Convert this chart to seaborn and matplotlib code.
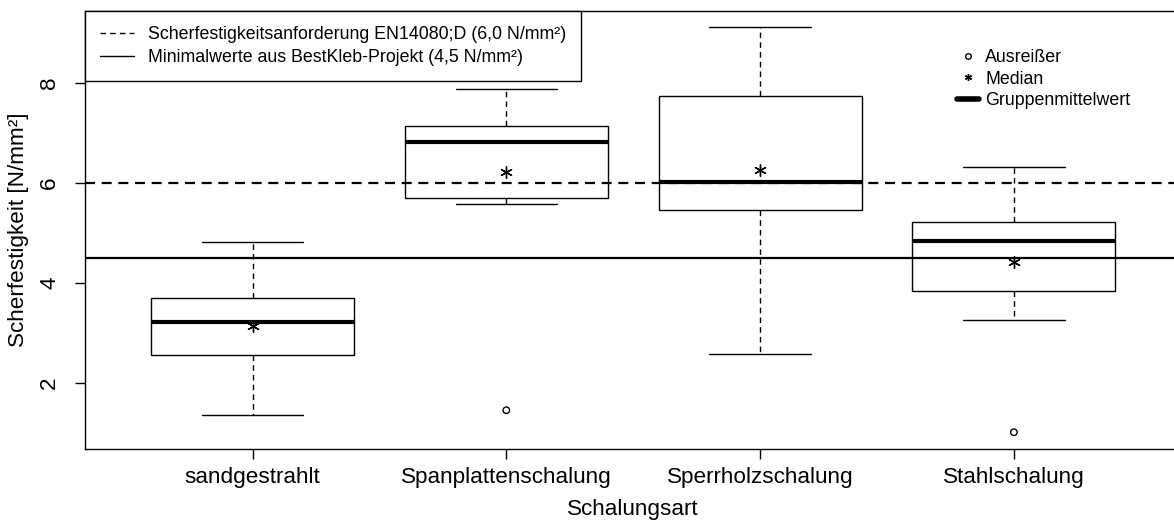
import matplotlib
matplotlib.use("Agg")
import matplotlib.pyplot as plt
import seaborn as sns
from matplotlib.lines import Line2D

# ---- data ----
categories = ["sandgestrahlt", "Spanplattenschalung", "Sperrholzschalung", "Stahlschalung"]
whisker_low = [1.36, 5.59, 2.58, 3.26]
box_q1 = [2.56, 5.70, 5.47, 3.84]
box_median = [3.22, 6.82, 6.03, 4.84]
box_q3 = [3.69, 7.15, 7.75, 5.22]
whisker_high = [4.82, 7.88, 9.12, 6.33]
group_mean = [3.13, 6.23, 6.27, 4.42]
outlier_category = ["Spanplattenschalung", "Stahlschalung"]
outlier_value = [1.45, 1.01]
ref_requirement = 6.0
ref_bestkleb = 4.5
legend1_labels = ["Scherfestigkeitsanforderung EN14080;D (6,0 N/mm²)",
                  "Minimalwerte aus BestKleb-Projekt (4,5 N/mm²)"]
legend2_labels = ["Ausreißer", "Median", "Gruppenmittelwert"]
y_ticks = [2, 4, 6, 8]

sns.set_theme(style="ticks")
plt.rcParams['font.family'] = ['Liberation Sans', 'DejaVu Sans']
plt.rcParams.update({"text.color": "black", "axes.labelcolor": "black",
                     "xtick.color": "black", "ytick.color": "black",
                     "axes.edgecolor": "black"})

fig = plt.figure(figsize=(11.74, 5.22), dpi=100)
ax = fig.add_axes([85/1174, 73.3/522, (1181.4-85)/1174, (448.7-11)/522])

positions = list(range(1, len(categories) + 1))
pos_of = dict(zip(categories, positions))

stats = []
for i, c in enumerate(categories):
    stats.append(dict(label=c, whislo=whisker_low[i], q1=box_q1[i], med=box_median[i],
                      q3=box_q3[i], whishi=whisker_high[i], fliers=[]))

ax.bxp(stats, positions=positions, widths=0.8, capwidths=0.4, showfliers=False,
       patch_artist=True,
       boxprops=dict(facecolor="white", edgecolor="black", linewidth=1.0),
       medianprops=dict(color="black", linewidth=3.0, solid_capstyle="butt"),
       whiskerprops=dict(color="black", linewidth=1.0, linestyle=(0, (4, 3))),
       capprops=dict(color="black", linewidth=1.0))

ax.axhline(ref_requirement, color="black", linewidth=1.6, linestyle=(0, (4.5, 3)), zorder=5)
ax.axhline(ref_bestkleb, color="black", linewidth=1.6, zorder=5)

sns.scatterplot(x=positions, y=group_mean, marker=(6, 2, 0), s=70, color="black",
                linewidth=1.0, ax=ax, zorder=6, legend=False)
sns.scatterplot(x=[pos_of[c] for c in outlier_category], y=outlier_value, marker="o", s=22,
                fc="none", ec="black", linewidth=1.0, ax=ax, zorder=6, legend=False)

ax.set_xlim(0.34, 4.66)
ax.set_ylim(0.68, 9.445)
ax.set_xticks(positions)
ax.set_xticklabels(categories, fontsize=16.2)
ax.set_yticks(y_ticks)
ax.set_yticklabels([str(t) for t in y_ticks], fontsize=16.2, rotation=90, va="center")
ax.tick_params(axis="both", direction="out", length=7, width=1, color="black")
ax.tick_params(axis="x", pad=6)
ax.tick_params(axis="y", pad=11)
ax.set_xlabel("Schalungsart", fontsize=16.2, labelpad=8)
ax.set_ylabel("Scherfestigkeit [N/mm²]", fontsize=16.2, labelpad=7)
for s in ax.spines.values():
    s.set_color("black")
    s.set_linewidth(1.0)

h1 = [Line2D([], [], color="black", linewidth=1.0, linestyle=(0, (4, 3))),
      Line2D([], [], color="black", linewidth=1.0)]
leg1 = ax.legend(h1, legend1_labels, loc="upper left", bbox_to_anchor=(0, 1),
                 borderaxespad=0, frameon=True, fancybox=False, edgecolor="black",
                 framealpha=1, fontsize=12.8, handlelength=1.9, handletextpad=0.8,
                 borderpad=0.85, labelspacing=0.34)
leg1.get_frame().set_linewidth(1.0)
ax.add_artist(leg1)

h2 = [Line2D([], [], linestyle="none", marker="o", mfc="none", mec="black", ms=4, mew=1),
      Line2D([], [], linestyle="none", marker=(6, 2, 0), color="black", ms=5, mew=1),
      Line2D([], [], color="black", linewidth=4, solid_capstyle="round")]
leg2 = ax.legend(h2, legend2_labels, loc="upper left", bbox_to_anchor=(0.795, 0.913),
                 borderaxespad=0, borderpad=0, frameon=False, fontsize=12.8,
                 handlelength=1.25, handletextpad=0.35, labelspacing=0.26)

fig.savefig("out.png", dpi=100)
